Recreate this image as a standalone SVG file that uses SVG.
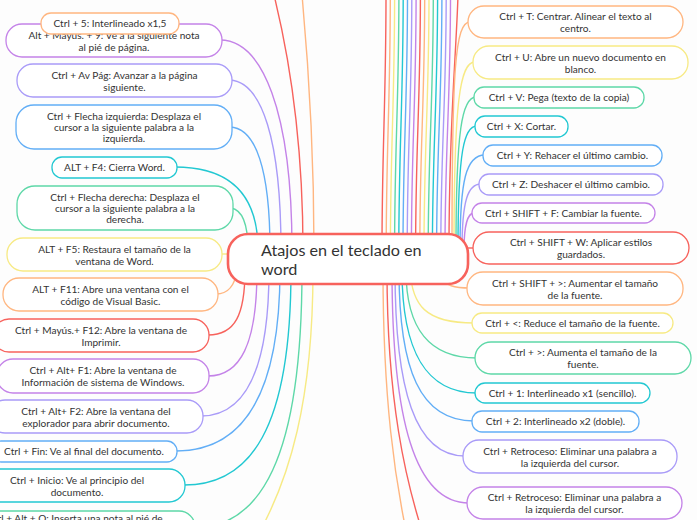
<svg xmlns="http://www.w3.org/2000/svg" width="697" height="520" viewBox="0 0 697 520">
<style>
.bg{fill:#fdfdfd}
.n rect{fill:#fff;stroke-width:1.3}
.t{font-family:Lato,"Liberation Sans",sans-serif;font-size:10.1px;fill:#333;text-anchor:middle}
.ct{font-family:Lato,"Liberation Sans",sans-serif;font-size:16.2px;fill:#333}
#connectors path{fill:none;stroke-width:1.4}
.r{stroke:#f7625c}.o{stroke:#ffb680}.y{stroke:#f7ea84}.g{stroke:#5ed8a8}.c{stroke:#22c8d2}.b{stroke:#62aef6}.l{stroke:#a99bf8}.p{stroke:#c483e8}
</style>
<rect class="bg" x="0" y="0" width="697" height="520"/>
<g id="connectors">
<path class="r" d="M274,-5 C290,60 303,140 303,250"/>
<path class="o" d="M302,-5 C308,60 314,150 314,250"/>
<path class="p" d="M220,40 C262,40 292,110 292,250"/>
<path class="l" d="M230,80 C262,82 281,140 281,250"/>
<path class="b" d="M230,127 C256,128 270,170 270,250"/>
<path class="c" d="M175,167 C235,167 258,200 258,250"/>
<path class="g" d="M231,208 C243,210 248,225 248,250"/>
<path class="y" d="M220,254 L240,254"/>
<path class="o" d="M216,294 C228,294 235,285 237,270"/>
<path class="r" d="M245,270 C245,315 235,335 208,335"/>
<path class="p" d="M257,270 C257,345 240,376 208,376"/>
<path class="l" d="M269,270 C269,370 245,416 201,416"/>
<path class="b" d="M280,270 C280,400 240,451 176,451"/>
<path class="c" d="M291,270 C291,430 250,485 184,485"/>
<path class="g" d="M302,270 C302,460 260,528 193,528"/>
<path class="y" d="M313,270 C313,400 290,480 255,540"/>
<path class="r" d="M386,-5 C386,100 382,150 382,250"/>
<path class="o" d="M390.3,-5 C390.3,100 386.2,150 386.2,250"/>
<path class="y" d="M394.6,-5 C394.6,100 390.4,150 390.4,250"/>
<path class="g" d="M398.9,-5 C398.9,100 394.6,150 394.6,250"/>
<path class="c" d="M403.2,-5 C403.2,100 398.8,150 398.8,250"/>
<path class="b" d="M407.5,-5 C407.5,100 403,150 403,250"/>
<path class="l" d="M411.8,-5 C411.8,100 407.2,150 407.2,250"/>
<path class="p" d="M416.1,-5 C416.1,100 411.4,150 411.4,250"/>
<path class="r" d="M420.4,-5 C420.4,100 415.6,150 415.6,250"/>
<path class="o" d="M424.7,-5 C424.7,100 419.8,150 419.8,250"/>
<path class="y" d="M429,-5 C429,100 424,150 424,250"/>
<path class="g" d="M433.3,-5 C433.3,100 428.2,150 428.2,250"/>
<path class="c" d="M437.6,-5 C437.6,100 432.4,150 432.4,250"/>
<path class="b" d="M441.9,-5 C441.9,100 436.6,150 436.6,250"/>
<path class="l" d="M446.2,-5 C446.2,100 440.8,150 440.8,250"/>
<path class="p" d="M450.5,-5 C450.5,100 445,150 445,250"/>
<path class="r" d="M458,-5 C456,60 449,120 449,250"/>
<path class="o" d="M470,22 C455,22 452,70 452,250"/>
<path class="y" d="M475,62 C460,62 454,100 454,250"/>
<path class="g" d="M476,97 C462,97 456,130 456,250"/>
<path class="c" d="M477,126 C464,126 458,150 458,250"/>
<path class="b" d="M485,155 C466,155 460,180 460,250"/>
<path class="l" d="M481,184 C468,184 462,200 462,250"/>
<path class="p" d="M474,213 C468,213 464,225 464,250"/>
<path class="r" d="M455,248 L476,248"/>
<path class="o" d="M440,276 C445,286 455,288 470,288"/>
<path class="y" d="M410,270 C412,305 425,323 474,323"/>
<path class="g" d="M406,270 C406,330 430,358 477,358"/>
<path class="c" d="M402,270 C402,350 425,393 477,393"/>
<path class="b" d="M399,270 C399,370 420,421 474,421"/>
<path class="l" d="M395,270 C395,390 415,456 465,456"/>
<path class="p" d="M392,270 C392,420 415,503 469,503"/>
<path class="r" d="M387,270 C387,400 405,480 425,540"/>
<path class="o" d="M383,270 C383,400 395,480 408,540"/>
</g>
<g id="center" class="n"><rect x="228" y="234" width="240" height="50" rx="20" class="r" style="stroke-width:2.6"/><text class="ct" x="261" y="256">Atajos en el teclado en</text><text class="ct" x="261" y="275">word</text></g>
<g id="L2" class="n"><rect x="6" y="24" width="216" height="33" rx="16" class="p"/><text class="t" x="114" y="38.5">Alt + Mayús. + 9: Ve a la siguiente nota</text><text class="t" x="114" y="50.5">al pié de página.</text></g>
<g id="L1" class="n"><rect x="41" y="13" width="138" height="21" rx="10" class="o"/><text class="t" x="110" y="27">Ctrl + 5: Interlineado x1,5</text></g>
<g id="L3" class="n"><rect x="17" y="64" width="215" height="33" rx="16" class="l"/><text class="t" x="124.5" y="78.5">Ctrl + Av Pág: Avanzar a la página</text><text class="t" x="124.5" y="90.5">siguiente.</text></g>
<g id="L4" class="n"><rect x="16" y="105" width="216" height="44" rx="18" class="b"/><text class="t" x="124" y="120">Ctrl + Flecha izquierda: Desplaza el</text><text class="t" x="124" y="131">cursor a la siguiente palabra a la</text><text class="t" x="124" y="142">izquierda.</text></g>
<g id="L5" class="n"><rect x="52" y="157" width="125" height="21" rx="10" class="c"/><text class="t" x="114.5" y="171">ALT + F4: Cierra Word.</text></g>
<g id="L6" class="n"><rect x="17" y="186" width="216" height="44" rx="18" class="g"/><text class="t" x="125" y="201">Ctrl + Flecha derecha: Desplaza el</text><text class="t" x="125" y="212">cursor a la siguiente palabra a la</text><text class="t" x="125" y="223">derecha.</text></g>
<g id="L7" class="n"><rect x="7" y="238" width="215" height="33" rx="16" class="y"/><text class="t" x="114.5" y="252.5">ALT + F5: Restaura el tamaño de la</text><text class="t" x="114.5" y="264.5">ventana de Word.</text></g>
<g id="L8" class="n"><rect x="3" y="278" width="215" height="33" rx="16" class="o"/><text class="t" x="110.5" y="292.5">ALT + F11: Abre una ventana con el</text><text class="t" x="110.5" y="304.5">código de Visual Basic.</text></g>
<g id="L9" class="n"><rect x="-7" y="319" width="216" height="33" rx="16" class="r"/><text class="t" x="101" y="333.5">Ctrl + Mayús.+ F12: Abre la ventana de</text><text class="t" x="101" y="345.5">Imprimir.</text></g>
<g id="L10" class="n"><rect x="-3" y="359" width="212" height="34" rx="16" class="p"/><text class="t" x="103" y="373.5">Ctrl + Alt+ F1: Abre la ventana de</text><text class="t" x="103" y="385.5">Información de sistema de Windows.</text></g>
<g id="L11" class="n"><rect x="-11" y="400" width="214" height="33" rx="16" class="l"/><text class="t" x="96" y="414.5">Ctrl + Alt+ F2: Abre la ventana del</text><text class="t" x="96" y="426.5">explorador para abrir documento.</text></g>
<g id="L12" class="n"><rect x="-9" y="441" width="186" height="21" rx="10" class="b"/><text class="t" x="84" y="455">Ctrl + Fin: Ve al final del documento.</text></g>
<g id="L13" class="n"><rect x="-31" y="469" width="216" height="33" rx="16" class="c"/><text class="t" x="77" y="483.5">Ctrl + Inicio: Ve al principio del</text><text class="t" x="77" y="495.5">documento.</text></g>
<g id="L14" class="n"><rect x="-45" y="511" width="240" height="33" rx="16" class="g"/><text class="t" x="75" y="522">Ctrl + Alt + O: Inserta una nota al pié de</text></g>
<g id="R1" class="n"><rect x="468" y="6" width="215" height="32" rx="16" class="o"/><text class="t" x="575.5" y="20">Ctrl + T: Centrar. Alinear el texto al</text><text class="t" x="575.5" y="32">centro.</text></g>
<g id="R2" class="n"><rect x="473" y="46" width="215" height="33" rx="16" class="y"/><text class="t" x="580.5" y="60.5">Ctrl + U: Abre un nuevo documento en</text><text class="t" x="580.5" y="72.5">blanco.</text></g>
<g id="R3" class="n"><rect x="474" y="87" width="170" height="21" rx="10" class="g"/><text class="t" x="559" y="101">Ctrl + V: Pega (texto de la copia)</text></g>
<g id="R4" class="n"><rect x="475" y="116" width="93" height="21" rx="10" class="c"/><text class="t" x="521.5" y="130">Ctrl + X: Cortar.</text></g>
<g id="R5" class="n"><rect x="483" y="145" width="179" height="21" rx="10" class="b"/><text class="t" x="572.5" y="159">Ctrl + Y: Rehacer el último cambio.</text></g>
<g id="R6" class="n"><rect x="479" y="174" width="184" height="21" rx="10" class="l"/><text class="t" x="571" y="188">Ctrl + Z: Deshacer el último cambio.</text></g>
<g id="R7" class="n"><rect x="472" y="203" width="183" height="20" rx="10" class="p"/><text class="t" x="563.5" y="216.5">Ctrl + SHIFT + F: Cambiar la fuente.</text></g>
<g id="R8" class="n"><rect x="473" y="232" width="216" height="32" rx="16" class="r"/><text class="t" x="581" y="246">Ctrl + SHIFT + W: Aplicar estilos</text><text class="t" x="581" y="258">guardados.</text></g>
<g id="R9" class="n"><rect x="467" y="272" width="216" height="33" rx="16" class="o"/><text class="t" x="575" y="286.5">Ctrl + SHIFT + &gt;: Aumentar el tamaño</text><text class="t" x="575" y="298.5">de la fuente.</text></g>
<g id="R10" class="n"><rect x="472" y="313" width="201" height="20" rx="10" class="y"/><text class="t" x="572.5" y="326.5">Ctrl + &lt;: Reduce el tamaño de la fuente.</text></g>
<g id="R11" class="n"><rect x="475" y="342" width="216" height="32" rx="16" class="g"/><text class="t" x="583" y="356">Ctrl + &gt;: Aumenta el tamaño de la</text><text class="t" x="583" y="368">fuente.</text></g>
<g id="R12" class="n"><rect x="475" y="383" width="175" height="20" rx="10" class="c"/><text class="t" x="562.5" y="396.5">Ctrl + 1: Interlineado x1 (sencillo).</text></g>
<g id="R13" class="n"><rect x="472" y="411" width="167" height="21" rx="10" class="b"/><text class="t" x="555.5" y="425">Ctrl + 2: Interlineado x2 (doble).</text></g>
<g id="R14" class="n"><rect x="463" y="440" width="214" height="33" rx="16" class="l"/><text class="t" x="570" y="454.5">Ctrl + Retroceso: Eliminar una palabra a</text><text class="t" x="570" y="466.5">la izquierda del cursor.</text></g>
<g id="R15" class="n"><rect x="467" y="487" width="215" height="32" rx="16" class="p"/><text class="t" x="574.5" y="501">Ctrl + Retroceso: Eliminar una palabra a</text><text class="t" x="574.5" y="513">la izquierda del cursor.</text></g>
</svg>
